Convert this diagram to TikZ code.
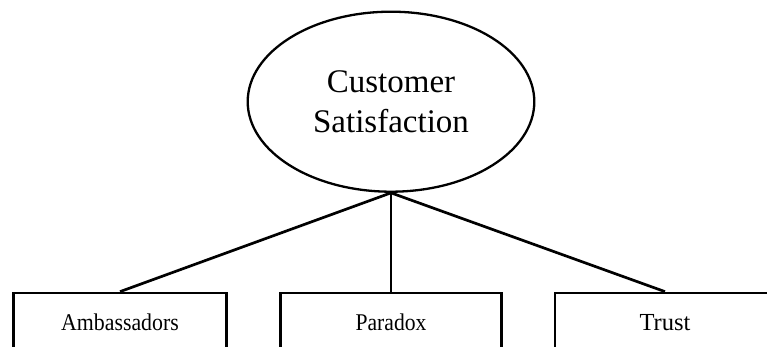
\documentclass[tikz,border=0pt]{standalone}
\usepackage{graphicx}
\usepackage{fontspec}
\setmainfont{Liberation Serif}
\usetikzlibrary{shapes.geometric}
\begin{document}
\begin{tikzpicture}[x=1pt,y=-1pt,
  topic/.style={ellipse, draw, line width=2.3pt, inner sep=0pt,
    minimum width=286.6pt, minimum height=180pt, align=center,
    font=\fontsize{33}{40}\selectfont},
  facet/.style={rectangle, draw, line width=2.7pt, inner sep=0pt,
    minimum height=74pt, text height=0pt, text depth=0pt,
    font=\fontsize{24}{28}\selectfont},
  link/.style={line width=2.7pt}]
  \clip (0,0) rectangle (767,347);
  \fill[white] (0,0) rectangle (767,347);

  % central concept
  \node[topic] (cs) at (391,101.7) {Customer\\Satisfaction};

  % three facets, their lower edges run off the page
  \node[facet, minimum width=213.3pt] (amb) at (120,330) {\scalebox{0.91}[1]{Ambassadors}};
  \node[facet, minimum width=220.7pt] (par) at (391,330) {\scalebox{0.9}[1]{Paradox}};
  \node[facet, minimum width=220pt, font=\fontsize{24.5}{28}\selectfont] (tru) at (665,330) {Trust};

  % connectors from the ellipse to each box
  \draw[link] (cs.south) -- (amb.north);
  \draw[link] (cs.south) -- (par.north);
  \draw[link] (cs.south) -- (tru.north);
\end{tikzpicture}
\end{document}
